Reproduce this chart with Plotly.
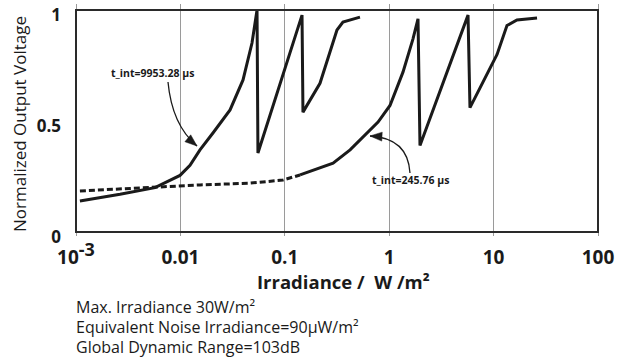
import plotly.graph_objects as go

# ---- data ----
irr_long = [0.00109, 0.00170, 0.00264, 0.00571, 0.00991, 0.01236, 0.0154, 0.0205, 0.0299,
            0.0398, 0.0485, 0.0542, 0.0553, 0.1462, 0.1493, 0.2173, 0.316, 0.3605, 0.525]
v_long = [0.14, 0.155, 0.17, 0.20, 0.255, 0.30, 0.37, 0.446, 0.55,
          0.685, 0.851, 1.0, 0.356, 0.977, 0.54, 0.67, 0.91, 0.946, 0.968]

irr_short = [0.00109, 0.00571, 0.0154, 0.0465, 0.0962, 0.140, 0.290, 0.422, 0.612, 0.782,
             1.018, 1.355, 1.69, 1.888, 1.972, 5.69, 5.94, 10.79, 13.43, 16.75, 26.06]
v_short = [0.185, 0.203, 0.212, 0.22, 0.234, 0.257, 0.31, 0.37, 0.446, 0.495,
           0.57, 0.72, 0.87, 0.96, 0.39, 0.977, 0.56, 0.80, 0.93, 0.955, 0.964]
split_short = 6  # dashed up to here, then continuous

x_tickvals = [0.001, 0.01, 0.1, 1, 10, 100]
x_ticktext = ["10<sup><span style='font-size:18px'>-3</span></sup>", "0.01", "0.1", "1", "10", "100"]
y_tickvals = [0, 0.5, 1]
y_ticktext = ["0", "0.5", "1"]
x_frame = [0.001, 100]
y_frame = [0, 1]

label_long = "t_int=9953.28 µs"
label_short = "t_int=245.76 µs"
notes = ["Max. Irradiance 30W/m²",
         "Equivalent Noise Irradiance=90µW/m²",
         "Global Dynamic Range=103dB"]
x_title = "Irradiance /  W /m²"
y_title = "Normalized Output Voltage"

# ---- layout geometry ----
W, H = 630, 360
L, R, T, B = 72, 26, 4, 124
PW, PH = W - L - R, H - T - B
DEC = 104.4            # px per decade
UNIT = 222.0           # px per unit of normalized voltage
X_RANGE = [-3 - 4 / DEC, 2 + 6 / DEC]
Y_RANGE = [-4 / UNIT, 1 + 6 / UNIT]
FONT = "Open Sans"
INK = "#1a1a1a"


def px(x, y):
    return (x - L) / PW, (H - B - y) / PH


fig = go.Figure()
fig.add_trace(go.Scatter(x=irr_long, y=v_long, mode="lines",
                         line=dict(color=INK, width=3), showlegend=False))
fig.add_trace(go.Scatter(x=irr_short[:split_short], y=v_short[:split_short], mode="lines",
                         line=dict(color=INK, width=3, dash="6px,3px"), showlegend=False))
fig.add_trace(go.Scatter(x=irr_short[split_short - 1:], y=v_short[split_short - 1:], mode="lines",
                         line=dict(color=INK, width=3), showlegend=False))

shapes = [dict(type="rect", xref="x", yref="y", x0=x_frame[0], x1=x_frame[1],
               y0=y_frame[0], y1=y_frame[1],
               line=dict(color="#2a2a2a", width=2), layer="above")]


def curve_arrow(p0, c, p1):
    a = px(*p0); b = px(*c); e = px(*p1)
    shapes.append(dict(type="path", xref="paper", yref="paper",
                       path=f"M {a[0]} {a[1]} Q {b[0]} {b[1]} {e[0]} {e[1]}",
                       line=dict(color=INK, width=1.3)))
    dx, dy = p1[0] - c[0], p1[1] - c[1]
    n = (dx * dx + dy * dy) ** 0.5
    dx, dy = dx / n, dy / n
    nx, ny = -dy, dx
    bx, by = p1[0] - 12 * dx, p1[1] - 12 * dy
    c1 = px(bx + 4.5 * nx, by + 4.5 * ny)
    c2 = px(bx - 4.5 * nx, by - 4.5 * ny)
    shapes.append(dict(type="path", xref="paper", yref="paper",
                       path=f"M {e[0]} {e[1]} L {c1[0]} {c1[1]} L {c2[0]} {c2[1]} Z",
                       fillcolor=INK, line=dict(color=INK, width=0.5)))


curve_arrow((168, 82), (172, 125), (197, 146))
curve_arrow((410, 173), (408, 138), (370, 136))

annotations = []


def note(text, x, y, size, bold=False, anchor="center", angle=0):
    tx, ty = px(x, y)
    annotations.append(dict(x=tx, y=ty, xref="paper", yref="paper", text=text, showarrow=False,
                            xanchor=anchor, yanchor="middle", textangle=angle,
                            font=dict(family=FONT, size=size, color=INK,
                                      weight="bold" if bold else "normal")))


note(label_long, 152, 73, 10.5, bold=True)
note(label_short, 410, 180, 10.5, bold=True)
note(x_title, 343, 281, 18.5, bold=True)
note(y_title, 20, 124, 17, angle=-90)
for i, line in enumerate(notes):
    note(line, 74, 307 + 20 * i, 16, anchor="left")

fig.update_layout(
    width=W, height=H,
    margin=dict(l=L, r=R, t=T, b=B, autoexpand=False),
    paper_bgcolor="white", plot_bgcolor="white",
    shapes=shapes, annotations=annotations,
    xaxis=dict(type="log", range=X_RANGE, tickvals=x_tickvals, ticktext=x_ticktext,
               showgrid=True, gridcolor="#9a9a9a", gridwidth=1,
               showline=False, ticks="", automargin=False, ticklabelstandoff=8,
               ticklabeloverflow="allow",
               tickfont=dict(family=FONT, size=19, color=INK, weight="bold"),
               zeroline=False),
    yaxis=dict(range=Y_RANGE, tickvals=y_tickvals, ticktext=y_ticktext,
               showgrid=False, showline=False, ticks="", automargin=False, ticklabelstandoff=10,
               ticklabeloverflow="allow", ticklabelshift=5,
               tickfont=dict(family=FONT, size=17, color=INK, weight="bold"),
               zeroline=False),
)

fig.write_html("out.html", config={"displayModeBar": False},
               post_script="document.body.style.margin='0';document.body.style.overflow='hidden';")
